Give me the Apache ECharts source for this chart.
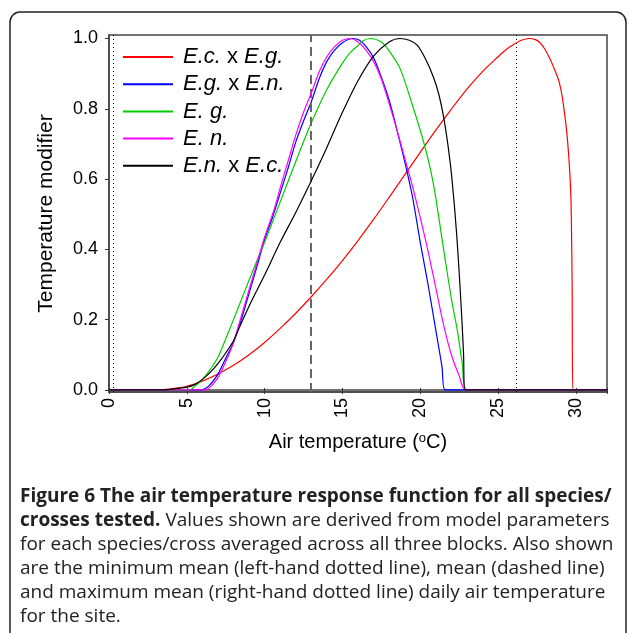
<!DOCTYPE html>
<html><head><meta charset="utf-8">
<script src="https://cdn.jsdelivr.net/npm/echarts@6/dist/echarts.min.js"></script>
<style>html,body{margin:0;padding:0;background:#fff}#c{width:629px;height:633px}</style>
</head><body><div id="c"></div>
<script>
// ---- data ----
const seriesNames = ['E.c. x E.g.', 'E.g. x E.n.', 'E. g.', 'E. n.', 'E.n. x E.c.'];
const seriesColors = ['#ff0000', '#0000ff', '#00cd00', '#ff00ff', '#000000'];

const tempEcEg = [0,3,4,5,6,7,8,9,10,11,12,13,14,15,16,17,18,19,20,21,22,23,24,25,25.5,26,26.5,27,27.4,27.7,28,28.3,28.6,28.9,29.1,29.25,29.4,29.5,29.6,29.68,29.72,29.76,29.8,32];
const modEcEg  = [0,0,0.003,0.01,0.025,0.045,0.07,0.1,0.135,0.175,0.218,0.265,0.315,0.368,0.425,0.485,0.548,0.612,0.676,0.739,0.799,0.856,0.906,0.948,0.968,0.983,0.995,1.0,0.997,0.988,0.97,0.945,0.915,0.88,0.84,0.795,0.74,0.69,0.626,0.55,0.45,0.3,0,0];

const tempEgEn = [0,5.85,6.2,6.5,7,7.5,8,8.5,9,9.5,10,10.5,11,11.5,12,12.5,13,13.5,14,14.5,15,15.65,16.1,16.5,17,17.5,18,18.5,19,19.5,20,20.5,21,21.4,21.6,32];
const modEgEn  = [0,0,0.004,0.015,0.045,0.09,0.135,0.2,0.275,0.35,0.428,0.49,0.56,0.63,0.705,0.765,0.82,0.885,0.935,0.967,0.988,1.0,0.995,0.978,0.945,0.89,0.825,0.74,0.65,0.55,0.42,0.3,0.17,0.065,0,0];

const tempEg = [0,5.2,5.5,6,6.5,7,7.5,8,8.5,9,9.5,10,11,12,13,14,15,15.5,16,16.3,16.8,17.5,18,18.7,19.5,20.3,20.85,21.5,22,22.4,22.7,23,32];
const modEg  = [0,0,0.01,0.03,0.058,0.093,0.145,0.2,0.256,0.312,0.367,0.42,0.535,0.65,0.76,0.855,0.93,0.96,0.98,0.993,1.0,0.99,0.965,0.915,0.81,0.692,0.585,0.4,0.26,0.165,0.075,0,0];

const tempEn = [0,6.2,6.5,7,7.5,8,8.5,9,9.5,10,10.6,11,11.5,12,12.5,13,13.5,14,14.5,15,15.5,16,16.5,17,17.5,18,18.5,19,19.5,20,20.5,21,21.5,22,22.5,22.95,32];
const modEn  = [0,0,0.008,0.035,0.08,0.135,0.21,0.285,0.36,0.435,0.512,0.575,0.65,0.725,0.79,0.845,0.905,0.948,0.977,0.995,1.0,0.99,0.968,0.935,0.885,0.815,0.74,0.66,0.58,0.49,0.395,0.29,0.185,0.1,0.04,0,0];

const tempEnEc = [0,3.5,4,5,5.5,6,6.5,7,7.5,8,8.5,9,9.5,10,11,12,13,14,15,16,17,18,18.7,19.3,19.8,20.3,20.85,21.2,21.5,21.8,22.05,22.35,22.6,22.78,22.87,32];
const modEnEc  = [0,0,0.002,0.008,0.015,0.03,0.05,0.075,0.105,0.14,0.19,0.238,0.283,0.327,0.42,0.505,0.595,0.69,0.79,0.88,0.95,0.99,1.0,0.995,0.981,0.945,0.89,0.84,0.777,0.69,0.595,0.437,0.26,0.106,0,0];

const xTickValues = [0,5,10,15,20,25,30];
const yTickValues = [0,0.2,0.4,0.6,0.8,1.0];
const minMeanTemp = 0.3, meanTemp = 12.95, maxMeanTemp = 26.2;

const captionLines = [
  '{b|Figure 6 The air temperature response function for all species/}',
  '{b|crosses tested.} Values shown are derived from model parameters',
  'for each species/cross averaged across all three blocks. Also shown',
  'are the minimum mean (left-hand dotted line), mean (dashed line)',
  'and maximum mean (right-hand dotted line) daily air temperature',
  'for the site.'
];

// ---- build ----
const temps = [tempEcEg, tempEgEn, tempEg, tempEn, tempEnEc];
const mods = [modEcEg, modEgEn, modEg, modEn, modEnEc];
const zip = (a, b) => a.map((t, i) => [t, b[i]]);
const FONT = 'Liberation Sans';
const CAP = 19;

function legendLabel(name) {
  return name.split(' x ').map(p => '{i|' + p + '}').join(' x ');
}

const series = seriesNames.map((n, k) => ({
  name: n, type: 'line', data: zip(temps[k], mods[k]),
  symbol: 'none', smooth: 0.3, z: 2 + k,
  lineStyle: { color: seriesColors[k], width: 1.2 },
  itemStyle: { color: seriesColors[k] }
}));
series.push({
  name: 'refs', type: 'line', data: [], symbol: 'none', silent: true,
  markLine: {
    silent: true, symbol: ['none', 'none'], label: { show: false },
    data: [
      { xAxis: minMeanTemp, lineStyle: { type: [1, 3], color: '#000', width: 1 } },
      { xAxis: meanTemp, lineStyle: { type: [9, 5], color: '#666', width: 2 } },
      { xAxis: maxMeanTemp, lineStyle: { type: [1, 3], color: '#000', width: 1 } }
    ]
  }
});

const graphic = [{
  type: 'rect', shape: { x: 10, y: 12, width: 616, height: 700, r: 10 },
  style: { fill: 'none', stroke: '#222', lineWidth: 1.5 }, silent: true
}];
captionLines.forEach((ln, i) => {
  graphic.push({
    type: 'text', left: 20, top: 487 + i * 24,
    style: {
      text: ln, fill: '#222', font: CAP + 'px "Open Sans"',
      rich: { b: { fontWeight: 'bold', fontFamily: 'Open Sans', fontSize: CAP, fill: '#222' } }
    }
  });
});

const chart = echarts.init(document.getElementById('c'), null, { renderer: 'canvas' });
chart.setOption({
  animation: false,
  backgroundColor: '#fff',
  textStyle: { fontFamily: FONT },
  grid: { left: 109, right: 22, top: 35, bottom: 241, show: true, borderColor: '#444', borderWidth: 1.5, outerBoundsMode: 'none' },
  legend: {
    data: seriesNames, orient: 'vertical', left: 117, top: 41,
    itemWidth: 50, itemHeight: 14, itemGap: 5.2,
    itemStyle: { opacity: 0, borderWidth: 0 },
    formatter: legendLabel,
    textStyle: {
      fontFamily: FONT, fontSize: 22, color: '#000', lineHeight: 22, padding: [0, 0, 0, 5],
      rich: { i: { fontStyle: 'italic', fontFamily: FONT, fontSize: 22, color: '#000', lineHeight: 22 } }
    }
  },
  xAxis: [{
    type: 'value', min: 0, max: 32, interval: 5, position: 'bottom',
    name: 'Air temperature ({s|o}C)', nameLocation: 'middle', nameGap: 40,
    nameTextStyle: { fontFamily: FONT, fontSize: 20, color: '#000', rich: { s: { fontSize: 13, verticalAlign: 'top', lineHeight: 14, padding: [0, 0, 8, 0] } } },
    axisLine: { show: true, onZero: false, lineStyle: { color: '#444', width: 1.5 } },
    axisTick: { show: true, inside: true, length: 4, lineStyle: { color: '#333' } },
    axisLabel: { rotate: 90, fontFamily: FONT, fontSize: 18, color: '#000', margin: 6, customValues: xTickValues },
    splitLine: { show: false }
  }, {
    type: 'value', min: 0, max: 32, interval: 5, position: 'top',
    axisLine: { show: true, lineStyle: { color: '#444', width: 1.5 } },
    axisTick: { show: true, inside: true, length: 4, lineStyle: { color: '#333' } },
    axisLabel: { show: false }, splitLine: { show: false }
  }],
  yAxis: {
    type: 'value', min: -0.006, max: 1.01,
    name: 'Temperature modifier', nameLocation: 'middle', nameGap: 52,
    nameTextStyle: { fontFamily: FONT, fontSize: 21, color: '#000' },
    axisLine: { show: true, onZero: false, lineStyle: { color: '#444', width: 1.5 } },
    axisTick: { show: true, inside: false, length: 4, lineStyle: { color: '#333' }, customValues: yTickValues },
    axisLabel: { fontFamily: FONT, fontSize: 18, color: '#000', margin: 11, customValues: yTickValues, formatter: v => v.toFixed(1) },
    splitLine: { show: false }
  },
  series: series,
  graphic: graphic
});
</script></body></html>
